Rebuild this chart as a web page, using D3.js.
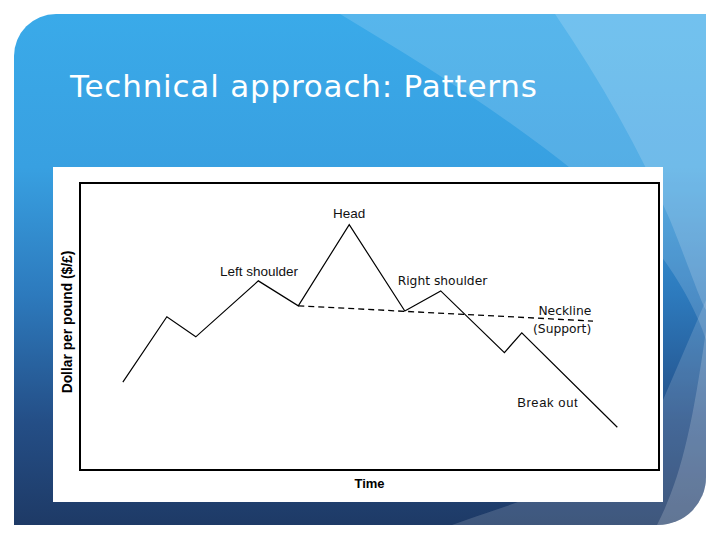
<!DOCTYPE html>
<html>
    <head>
        <title>Technical approach: Patterns</title>
        <script src="https://d3js.org/d3.v7.min.js"></script>
        <style>
            body {
                margin: 0;
                background: #fff;
            }
            .price {
                fill: none;
                stroke: #000;
                stroke-width: 1.2px;
            }
            .neck {
                fill: none;
                stroke: #000;
                stroke-width: 1.3px;
                stroke-dasharray: 6 4;
            }
            .note {
                font-family: 'Liberation Sans', Arial, sans-serif;
                font-size: 13.5px;
                fill: #111;
            }
            .note.dv {
                font-family: 'DejaVu Sans', sans-serif;
                font-size: 12.3px;
            }
        </style>
    </head>
    <body>
        <div id="slide"></div>
        <script>
            // head-and-shoulders price path (time 0-100, price 0-100)
            const times = [7.4, 15.0, 20.0, 30.8, 37.7, 46.5, 56.1, 62.3, 73.3, 76.3, 92.8];
            const prices = [30.6, 53.4, 46.4, 65.9, 57.2, 85.5, 55.4, 62.4, 40.9, 47.8, 14.9];
            // neckline (support) from left trough to the right
            const neckTimes = [37.7, 88.6];
            const neckPrices = [57.2, 51.9];
            // annotations
            const noteText = ['Head', 'Left shoulder', 'Right shoulder', 'Neckline', '(Support)', 'Break out'];
            const noteTime = [46.5, 30.9, 62.6, 88.3, 88.3, 75.5];
            const notePrice = [87.8, 67.6, 64.5, 54.0, 47.7, 22.0];
            const noteAnchor = ['middle', 'middle', 'middle', 'end', 'end', 'start'];

            const W = 720,
                H = 540;
            const svg = d3.select('#slide').append('svg').attr('width', W).attr('height', H);
            const defs = svg.append('defs');

            // slide background
            const grad = defs
                .append('linearGradient')
                .attr('id', 'bg')
                .attr('x1', 0)
                .attr('y1', 0)
                .attr('x2', 0)
                .attr('y2', 1);
            [
                [0, '#3aaae9'],
                [0.3, '#38a0e1'],
                [0.55, '#2d7abd'],
                [0.8, '#244e86'],
                [1, '#1e3a66'],
            ].forEach((s) => grad.append('stop').attr('offset', s[0]).attr('stop-color', s[1]));

            const slidePath = 'M56,14 H706 V477 A48,48 0 0 1 658,525 H14 V56 A42,42 0 0 1 56,14 Z';
            defs.append('clipPath').attr('id', 'clip').append('path').attr('d', slidePath);
            svg.append('path').attr('d', slidePath).attr('fill', 'url(#bg)');

            const deco = svg.append('g').attr('clip-path', 'url(#clip)');
            deco.append('path')
                .attr('d', 'M340,14 C450,80 560,150 640,230 C680,275 700,320 706,340 L706,14 Z')
                .attr('fill', '#fff')
                .attr('opacity', 0.15);
            deco.append('path')
                .attr('d', 'M555,14 C600,80 640,150 670,220 C690,270 700,300 706,310 L706,14 Z')
                .attr('fill', '#fff')
                .attr('opacity', 0.16);
            deco.append('path')
                .attr('d', 'M452,525 C520,500 640,470 663,400 L706,300 L706,525 Z')
                .attr('fill', '#fff')
                .attr('opacity', 0.15);
            deco.append('path')
                .attr('d', 'M657,525 C680,480 692,430 706,330 L706,525 Z')
                .attr('fill', '#fff')
                .attr('opacity', 0.18);

            svg.append('text')
                .attr('x', 70)
                .attr('y', 97)
                .attr('fill', '#fff')
                .style('font-family', "'DejaVu Sans', sans-serif")
                .style('font-size', '31px')
                .style('letter-spacing', '0.8px')
                .text('Technical approach: Patterns');

            // picture of the chart
            svg.append('rect').attr('x', 53).attr('y', 167).attr('width', 610).attr('height', 335).attr('fill', '#fff');

            const x = d3.scaleLinear().domain([0, 100]).range([80, 659]);
            const y = d3.scaleLinear().domain([0, 100]).range([470, 183]);

            svg.append('rect')
                .attr('x', x(0))
                .attr('y', y(100))
                .attr('width', x(100) - x(0))
                .attr('height', y(0) - y(100))
                .attr('fill', 'none')
                .attr('stroke', '#000')
                .attr('stroke-width', 2);

            const line = d3
                .line()
                .x((d) => x(d[0]))
                .y((d) => y(d[1]));

            svg.append('path')
                .datum(d3.zip(neckTimes, neckPrices))
                .attr('class', 'neck')
                .attr('d', line);
            svg.append('path')
                .datum(d3.zip(times, prices))
                .attr('class', 'price')
                .attr('d', line);

            svg.selectAll('.note')
                .data(noteText)
                .enter()
                .append('text')
                .attr('class', (d, i) => (i == 2 || i == 3 || i == 4 ? 'note dv' : 'note'))
                .attr('x', (d, i) => x(noteTime[i]))
                .attr('y', (d, i) => y(notePrice[i]))
                .attr('text-anchor', (d, i) => noteAnchor[i])
                .style('font-size', (d, i) => (i == 5 ? '13px' : null))
                .style('letter-spacing', (d, i) => (i == 5 ? '0.6px' : null))
                .text((d) => d);

            // axis titles
            svg.append('text')
                .attr('transform', 'translate(72,322) rotate(-90)')
                .attr('text-anchor', 'middle')
                .style('font-family', "'Liberation Sans', Arial, sans-serif")
                .style('font-weight', 'bold')
                .style('font-size', '13.8px')
                .text('Dollar per pound ($/£)');
            svg.append('text')
                .attr('x', (x(0) + x(100)) / 2)
                .attr('y', 488)
                .attr('text-anchor', 'middle')
                .style('font-family', "'Liberation Sans', Arial, sans-serif")
                .style('font-weight', 'bold')
                .style('font-size', '13px')
                .text('Time');
        </script>
    </body>
</html>
